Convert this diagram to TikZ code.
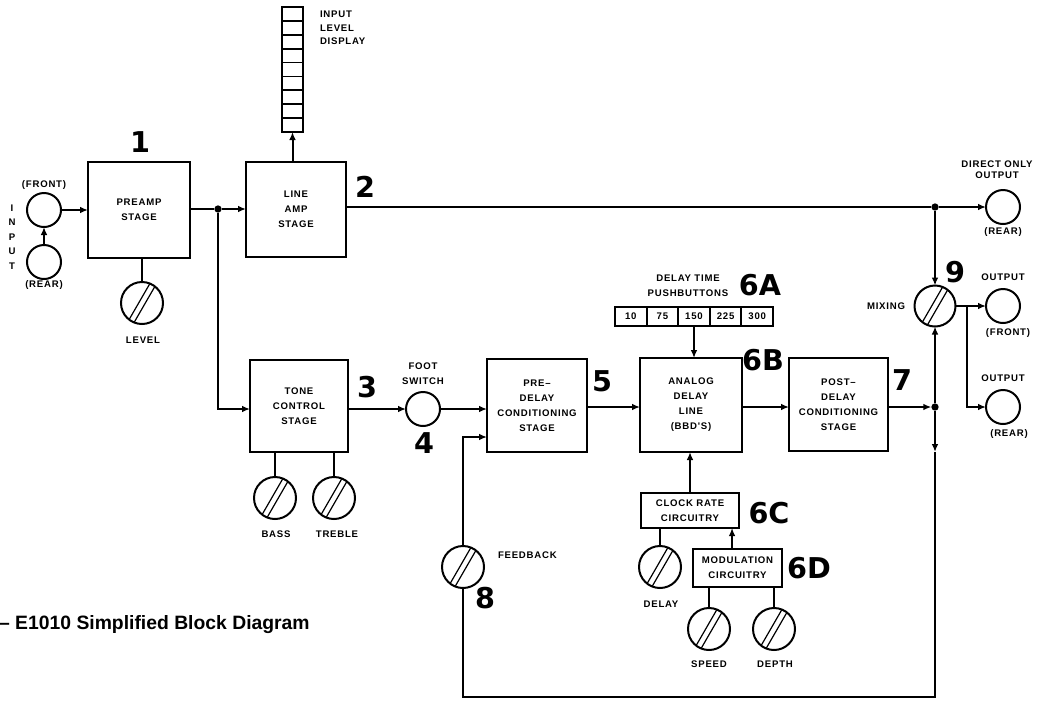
\documentclass[tikz,border=0pt]{standalone}
\usepackage{fontspec}
\setmainfont{Liberation Sans}
\newfontfamily\labfont{Liberation Sans}[LetterSpace=8]
\newfontfamily\numfont{DejaVu Sans}
\usetikzlibrary{arrows.meta}
\begin{document}
\begin{tikzpicture}[x=0.75pt,y=-0.75pt,
  lab/.style={font=\labfont\bfseries\fontsize{7.2}{11.25}\selectfont, align=center, inner sep=0pt, outer sep=0pt},
  num/.style={font=\numfont\bfseries\fontsize{21.5}{21.5}\selectfont, inner sep=0pt},
  sz/.style 2 args={minimum width=#1*0.75pt, minimum height=#2*0.75pt},
  blk/.style={draw, line width=1.8pt, rectangle, inner sep=0pt, outer sep=0pt, align=center, font=\labfont\bfseries\fontsize{7.2}{11.25}\selectfont},
  cell/.style={draw, line width=1.4pt, rectangle, inner sep=0pt, outer sep=0pt, font=\labfont\bfseries\fontsize{7.2}{9}\selectfont},
  jack/.style={draw, circle, line width=1.5pt, minimum size=25.5pt, inner sep=0pt, outer sep=0pt},
  knob/.style={draw, circle, line width=1.5pt, minimum size=31.5pt, inner sep=0pt, outer sep=0pt,
     path picture={
       \draw[line width=0.9pt] ([xshift=-2.5pt]path picture bounding box.center) ++(240:30pt) -- ++(60:60pt);
       \draw[line width=0.9pt] ([xshift=2.5pt]path picture bounding box.center) ++(240:30pt) -- ++(60:60pt);
     }},
  dot/.style={circle, fill, inner sep=0pt, minimum size=5.5pt, outer sep=0pt},
  conn/.style={line width=1.5pt},
  arr/.style={line width=1.5pt, -{Latex[length=6pt,width=5pt]}}
]
\useasboundingbox (0,0) rectangle (1037,701);

% ---- blocks
\node[blk, sz={102}{96}] (preamp) at (139,210) {PREAMP\\STAGE};
\node[blk, sz={100}{95}] (lineamp) at (296,209.5) {LINE\\AMP\\STAGE};
\node[blk, sz={98}{92}] (tone) at (299,406) {TONE\\CONTROL\\STAGE};
\node[blk, sz={100}{93}] (predelay) at (537,405.5) {PRE–\\DELAY\\CONDITIONING\\STAGE};
\node[blk, sz={102}{94}] (analog) at (691,405) {ANALOG\\DELAY\\LINE\\(BBD'S)};
\node[blk, sz={99}{93}] (postdelay) at (838.5,404.5) {POST–\\DELAY\\CONDITIONING\\STAGE};
\node[blk, sz={98}{35}, line width=1.6pt] (clock) at (690,510.5) {CLOCK RATE\\CIRCUITRY};
\node[blk, sz={89}{38}, line width=1.6pt] (mod) at (737.5,568) {MODULATION\\CIRCUITRY};

% ---- input level display
\foreach \k in {1,...,9} {
  \node[cell, sz={21}{13.89}] (d\k) at (292.5,{7+13.89*(\k-0.5)}) {};
}
% ---- pushbuttons
\foreach \k/\t in {1/10,2/75,3/150,4/225,5/300} {
  \node[cell, sz={31.6}{19}] (b\k) at ({615+31.6*(\k-0.5)},316.5) {\t};
}

% ---- jacks
\node[jack] (infront) at (44,210) {};
\node[jack] (inrear) at (44,262) {};
\node[jack] (foot) at (423,409) {};
\node[jack] (dout) at (1003,207) {};
\node[jack] (outf) at (1003,306) {};
\node[jack] (outr) at (1003,407) {};

% ---- knobs
\node[knob] (level) at (142,303) {};
\node[knob] (bass) at (275,498) {};
\node[knob] (treble) at (334,498) {};
\node[knob] (feedback) at (463,567) {};
\node[knob] (delay) at (660,567) {};
\node[knob] (speed) at (709,629) {};
\node[knob] (depth) at (774,629) {};
\node[knob, minimum size=30.75pt] (mixing) at (935,306) {};

% ---- junctions and corners
\node[dot] (j1) at (218,209) {};
\node[dot] (j2) at (935,207) {};
\node[dot] (j3) at (935,407) {};
\coordinate (m1) at (967,306);
\coordinate (fbd) at (935,452);
\coordinate (fbr) at (935,697);
\coordinate (fbl) at (463,697);
\coordinate (fbt) at (463,437);

% ---- connectors
\draw[arr] (infront.east) -- (preamp.west |- infront);
\draw[arr] (inrear.north) -- (infront.south);
\draw[conn] (preamp.south -| level) -- (level.north);
\draw[conn] (preamp.east |- j1) -- (j1);
\draw[arr] (j1) -- (lineamp.west |- j1);
\draw[arr] (j1) |- (tone.west |- foot);
\draw[arr] (lineamp.north -| d9) -- (d9.south);
\draw[conn] (lineamp.east |- j2) -- (j2);
\draw[arr] (j2) -- (dout.west);
\draw[arr] (j2) -- (mixing.north);
\draw[conn] (mixing.east) -- (m1);
\draw[arr] (m1) -- (outf.west);
\draw[arr] (m1) |- (outr.west);
\draw[arr] (tone.east |- foot) -- (foot.west);
\draw[arr] (foot.east) -- (foot -| predelay.west);
\draw[conn] (tone.south -| bass) -- (bass.north);
\draw[conn] (tone.south -| treble) -- (treble.north);
\draw[arr] (predelay.east |- j3) -- (analog.west |- j3);
\draw[arr] (analog.east |- j3) -- (postdelay.west |- j3);
\draw[arr] (postdelay.east |- j3) -- (j3);
\draw[arr] (j3) -- (mixing.south);
\draw[arr] (j3) -- (fbd);
\draw[conn] (fbd) -- (fbr) -- (fbl) -- (feedback.south);
\draw[arr] (feedback.north) -- (fbt) -- (fbt -| predelay.west);
\draw[arr] (b3.south) -- (b3.south |- analog.north);
\draw[arr] (clock.north) -- (clock.north |- analog.south);
\draw[conn] (clock.south -| delay) -- (delay.north);
\draw[arr] ([xshift=-4.1pt]mod.north) -- ([xshift=-4.1pt]mod.north |- clock.south);
\draw[conn] (mod.south -| speed) -- (speed.north);
\draw[conn] (mod.south -| depth) -- (depth.north);

% ---- labels
\node[lab] (tfront) at (44,185) {(FRONT)};
\node[lab] (trear) at (44,285) {(REAR)};
\node[lab, font=\labfont\bfseries\fontsize{7.2}{10.9}\selectfont] (tinput) at (12,237) {I\\N\\P\\U\\T};
\node[lab] (tlevel) at (143,340) {LEVEL};
\node[lab, anchor=west, align=left, font=\labfont\bfseries\fontsize{7.2}{10}\selectfont] (tdisp) at (320,28) {INPUT\\LEVEL\\DISPLAY};
\node[lab] (tfoot) at (423,374) {FOOT\\SWITCH};
\node[lab] (tbass) at (276,534) {BASS};
\node[lab] (ttreble) at (337,534) {TREBLE};
\node[lab, anchor=west] (tfb) at (498,555) {FEEDBACK};
\node[lab] (tdt) at (688,285.5) {DELAY TIME\\PUSHBUTTONS};
\node[lab] (tdelay) at (661,604) {DELAY};
\node[lab] (tspeed) at (709,664) {SPEED};
\node[lab] (tdepth) at (775,664) {DEPTH};
\node[lab, anchor=east] (tmix) at (905,306) {MIXING};
\node[lab, font=\labfont\bfseries\fontsize{7.2}{8.5}\selectfont] (tdo) at (997,169.5) {DIRECT ONLY\\OUTPUT};
\node[lab] (tdor) at (1003,232) {(REAR)};
\node[lab] (to1) at (1003,277) {OUTPUT};
\node[lab] (to1f) at (1008,333) {(FRONT)};
\node[lab] (to2) at (1003,378) {OUTPUT};
\node[lab] (to2r) at (1009,434) {(REAR)};

% ---- numbers
\node[num] (n1) at (140,142) {1};
\node[num] (n2) at (365,187) {2};
\node[num] (n3) at (367,387) {3};
\node[num] (n4) at (424,443) {4};
\node[num] (n5) at (602,381) {5};
\node[num] (n6a) at (760,285) {6A};
\node[num] (n6b) at (763,360) {6B};
\node[num] (n6c) at (769,513) {6C};
\node[num] (n6d) at (809,568) {6D};
\node[num] (n7) at (902,380) {7};
\node[num] (n8) at (485,598) {8};
\node[num] (n9) at (955,272) {9};

% ---- caption
\node[anchor=west, inner sep=0pt, font=\bfseries\fontsize{14.5}{14.5}\selectfont] (cap) at (15,625) {\llap{– }E1010 Simplified Block Diagram};
\end{tikzpicture}
\end{document}
